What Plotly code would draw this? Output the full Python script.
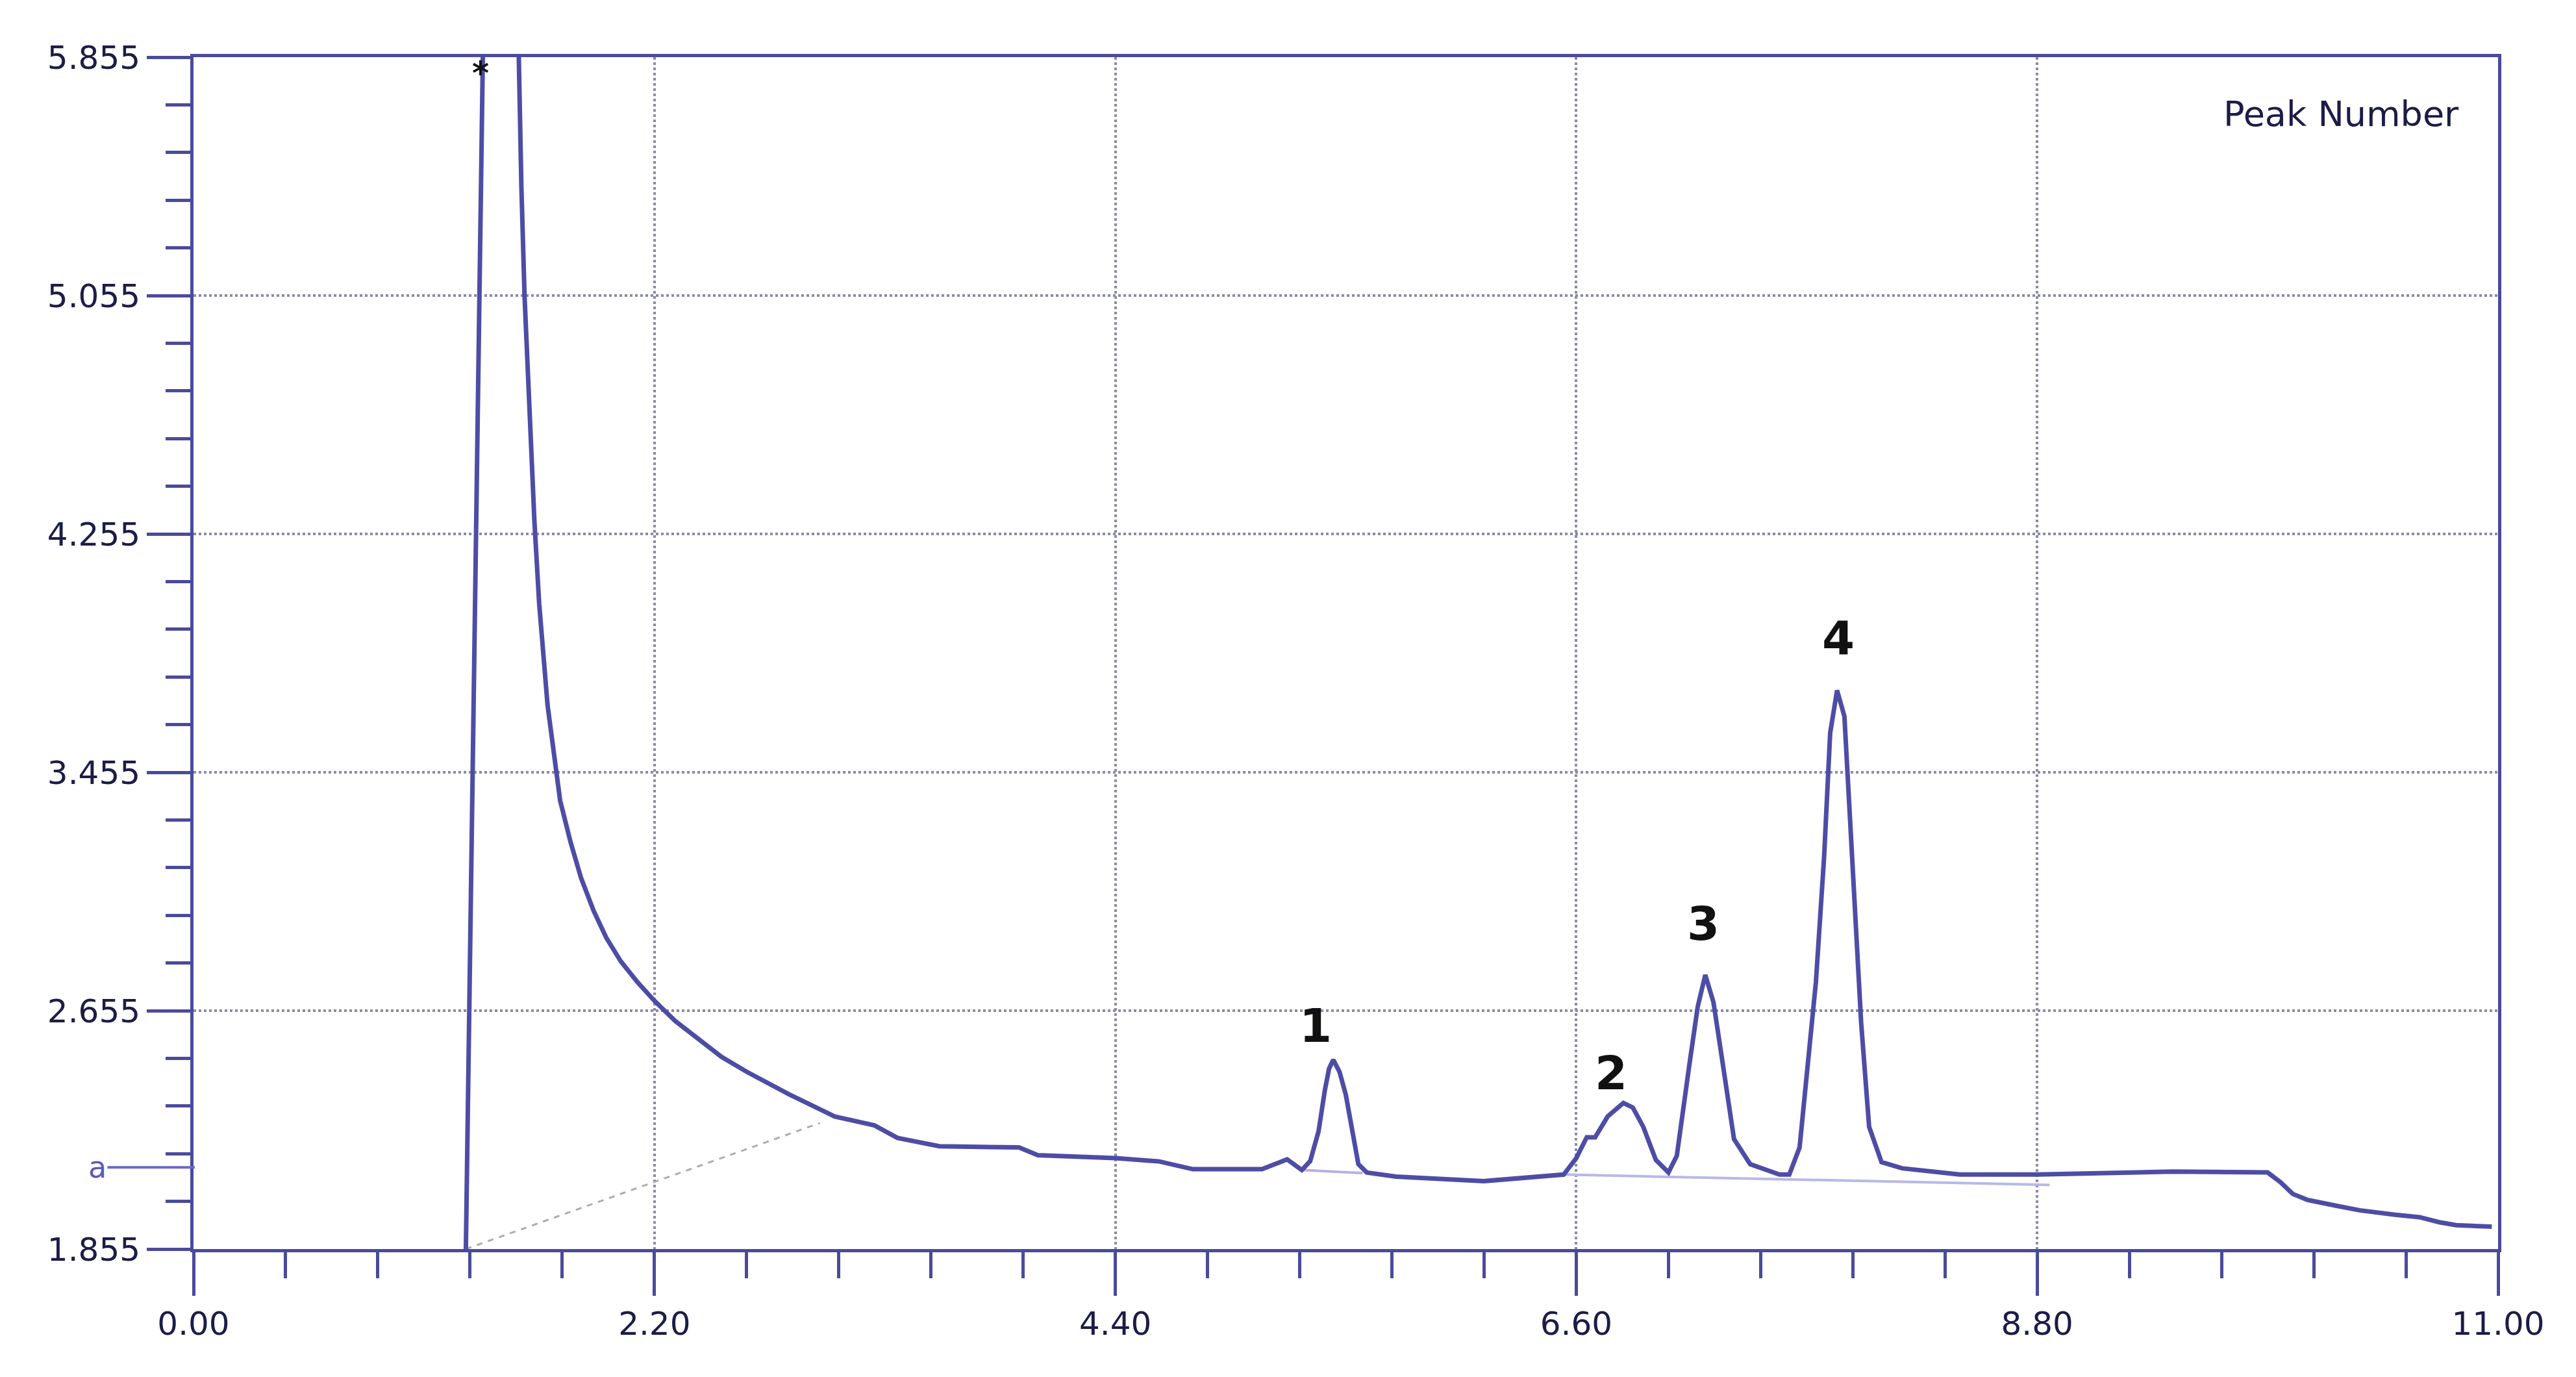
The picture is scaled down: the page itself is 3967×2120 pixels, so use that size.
import plotly.graph_objects as go

# ---- data ----
time_min = [1.30, 1.39, 1.54, 1.55, 1.565, 1.58, 1.60, 1.627, 1.65, 1.69, 1.75, 1.80, 1.85, 1.91,
            1.97, 2.04, 2.12, 2.20, 2.30, 2.39, 2.52, 2.64, 2.84, 3.06, 3.25, 3.36, 3.56, 3.94,
            4.03, 4.40, 4.61, 4.77, 5.10, 5.22, 5.29,
            5.33, 5.37, 5.40, 5.42, 5.44, 5.47, 5.50, 5.53, 5.56, 5.60, 5.74, 6.16, 6.54,
            6.60, 6.65, 6.69, 6.75, 6.825, 6.87, 6.92, 6.98, 7.04,
            7.08, 7.14, 7.18, 7.216, 7.255, 7.294, 7.353, 7.43, 7.57, 7.617,
            7.666, 7.744, 7.783, 7.812, 7.845, 7.88, 7.915, 7.96, 7.998, 8.057, 8.155,
            8.43, 8.80, 9.445, 9.90, 9.96, 10.02, 10.09, 10.23, 10.34, 10.51, 10.625,
            10.72, 10.80, 10.97]
signal = [1.855, 6.30, 6.30, 5.855, 5.42, 5.055, 4.72, 4.30, 4.02, 3.68, 3.36, 3.22, 3.10, 2.99,
          2.90, 2.82, 2.75, 2.688, 2.62, 2.569, 2.50, 2.45, 2.375, 2.30, 2.27, 2.228, 2.20, 2.196,
          2.17, 2.16, 2.149, 2.123, 2.123, 2.156, 2.12,
          2.15, 2.25, 2.388, 2.46, 2.49, 2.45, 2.373, 2.25, 2.14, 2.112, 2.098, 2.083, 2.105,
          2.16, 2.23, 2.23, 2.30, 2.345, 2.33, 2.265, 2.154, 2.112,
          2.168, 2.474, 2.669, 2.775, 2.683, 2.502, 2.224, 2.14, 2.105, 2.105,
          2.196, 2.752, 3.17, 3.587, 3.730, 3.643, 3.17, 2.613, 2.265, 2.147, 2.126,
          2.105, 2.105, 2.115, 2.112, 2.08, 2.04, 2.02, 2.0, 1.985, 1.97, 1.962,
          1.945, 1.935, 1.93]

# integration baselines
solvent_base_x = [1.30, 2.99]
solvent_base_y = [1.855, 2.278]
peak1_base_x = [5.30, 5.58]
peak1_base_y = [2.12, 2.11]
peaks234_base_x = [6.54, 8.86]
peaks234_base_y = [2.105, 2.07]

# peak labels
peak_labels = ["1", "2", "3", "4"]
peak_label_x = [5.355, 6.766, 7.206, 7.85]
peak_label_y = [2.605, 2.446, 2.947, 3.907]

x_tickvals = [0.00, 2.20, 4.40, 6.60, 8.80, 11.00]
x_ticktext = ["0.00", "2.20", "4.40", "6.60", "8.80", "11.00"]
y_tickvals = [1.855, 2.655, 3.455, 4.255, 5.055, 5.855]
y_ticktext = ["1.855", "2.655", "3.455", "4.255", "5.055", "5.855"]

AXIS = "#4a4a9c"
TRACE = "#4d4da6"
GRID = "#8a8aa8"
TEXT = "#1c1c48"

fig = go.Figure()

fig.add_trace(go.Scatter(x=solvent_base_x, y=solvent_base_y, mode="lines",
                         line=dict(color="#a8b0a8", width=3, dash="dash"),
                         hoverinfo="skip", showlegend=False))
fig.add_trace(go.Scatter(x=peak1_base_x, y=peak1_base_y, mode="lines",
                         line=dict(color="#b8b0e0", width=4),
                         hoverinfo="skip", showlegend=False))
fig.add_trace(go.Scatter(x=peaks234_base_x, y=peaks234_base_y, mode="lines",
                         line=dict(color="#b8b8e8", width=4),
                         hoverinfo="skip", showlegend=False))

fig.add_trace(go.Scatter(x=time_min, y=signal, mode="lines",
                         line=dict(color=TRACE, width=7),
                         showlegend=False))

for t, x, y in zip(peak_labels, peak_label_x, peak_label_y):
    fig.add_annotation(x=x, y=y, text="<b>%s</b>" % t, showarrow=False,
                       font=dict(family="DejaVu Sans", size=72, color="#111111"))

fig.add_annotation(x=1.37, y=5.80, text="<b>*</b>", showarrow=False,
                   font=dict(family="DejaVu Sans", size=50, color="#111111"))

fig.add_annotation(x=10.82, y=5.665, text="Peak Number", showarrow=False,
                   xanchor="right",
                   font=dict(family="DejaVu Sans", size=54, color=TEXT))

fig.add_annotation(x=0.006, y=2.129, ax=-150, ay=0, text="a", showarrow=True,
                   arrowhead=0, arrowwidth=4, arrowcolor="#6a6ac0",
                   font=dict(family="DejaVu Sans", size=46, color="#5a5ab8"))

fig.update_layout(
    width=3967, height=2120,
    margin=dict(l=290, r=128, t=80, b=205),
    paper_bgcolor="white", plot_bgcolor="white",
    showlegend=False,
)

fig.update_xaxes(
    range=[0, 11], tickvals=x_tickvals, ticktext=x_ticktext,
    ticks="outside", ticklen=67, tickwidth=5, tickcolor=AXIS,
    showline=True, linecolor=AXIS, linewidth=5, mirror=True,
    showgrid=True, gridcolor=GRID, gridwidth=4, griddash="dot",
    zeroline=False,
    tickfont=dict(family="DejaVu Sans", size=50, color=TEXT),
    minor=dict(tick0=0, dtick=0.44, ticks="outside", ticklen=40, tickwidth=5,
               tickcolor=AXIS, showgrid=False),
)
fig.update_yaxes(
    range=[1.855, 5.855], tickvals=y_tickvals, ticktext=y_ticktext,
    ticks="outside", ticklen=67, tickwidth=5, tickcolor=AXIS,
    showline=True, linecolor=AXIS, linewidth=5, mirror=True,
    showgrid=True, gridcolor=GRID, gridwidth=4, griddash="dot",
    zeroline=False,
    tickfont=dict(family="DejaVu Sans", size=50, color=TEXT),
    minor=dict(tick0=1.855, dtick=0.16, ticks="outside", ticklen=38, tickwidth=5,
               tickcolor=AXIS, showgrid=False),
)

fig.write_html("out.html")
